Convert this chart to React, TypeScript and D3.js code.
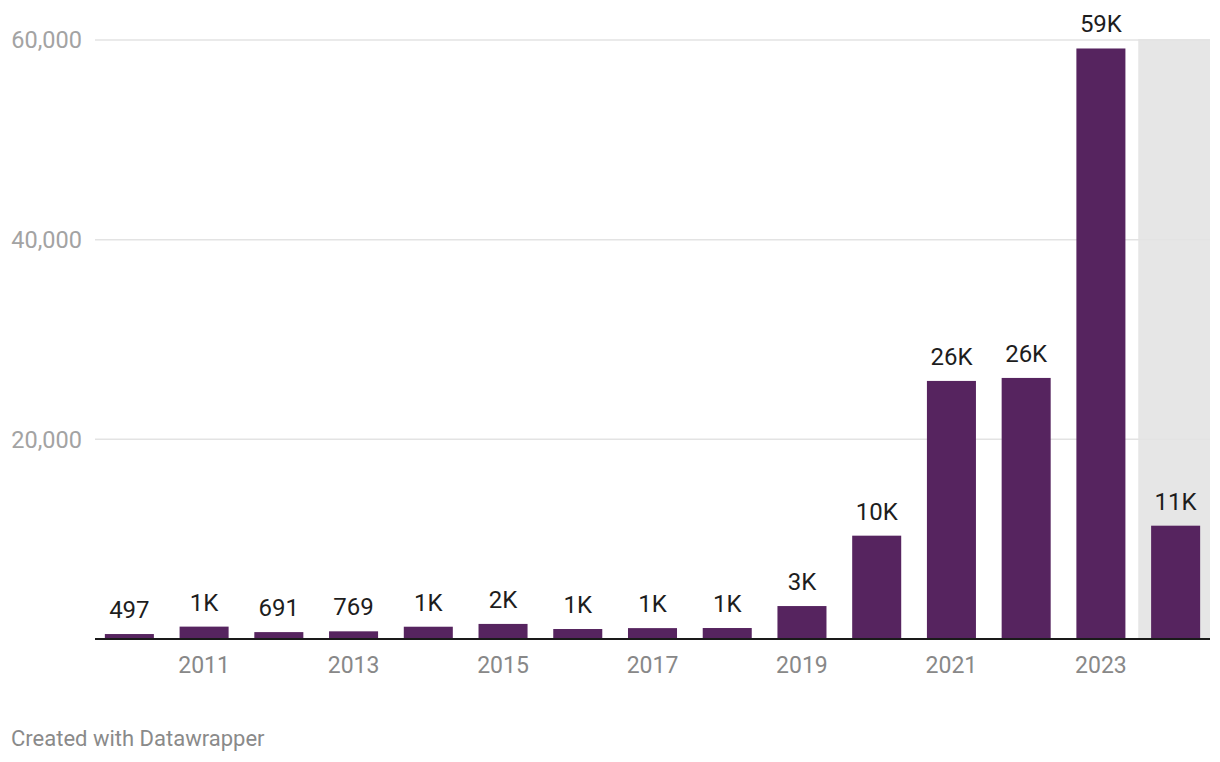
import React from "react";
import * as d3 from "d3";

const years = [2010, 2011, 2012, 2013, 2014, 2015, 2016, 2017, 2018, 2019, 2020, 2021, 2022, 2023, 2024];
const values = [497, 1240, 691, 769, 1230, 1510, 1000, 1090, 1100, 3300, 10350, 25850, 26150, 59150, 11350];
const yTicks = [20000, 40000, 60000];
const xTickYears = [2011, 2013, 2015, 2017, 2019, 2021, 2023];
const highlightYears = [2024];

const W = 1220;
const H = 762;
const plotLeft = 95;
const plotRight = 1210;
const baseY = 639;
const topY = 40;
const barColor = "#56245f";
const font = "Roboto, 'Noto Sans', sans-serif";

function fmtLabel(v: number): string {
  if (v < 1000) return String(v);
  return Math.round(v / 1000) + "K";
}

export default function App() {
  const x = d3
    .scaleBand<number>()
    .domain(years)
    .range([92, 1213])
    .paddingInner(0.344)
    .paddingOuter(0.172);
  const y = d3.scaleLinear().domain([0, 60000]).range([baseY, topY]);
  const step = x.step();
  const fmtAxis = d3.format(",");

  return (
    <div style={{ position: "absolute", left: 0, top: 0 }}>
      <svg width={W} height={H} style={{ display: "block", fontFamily: font }}>
        <rect x={0} y={0} width={W} height={H} fill="#ffffff" />
        {highlightYears.map((yr) => {
          const cx = (x(yr) as number) + x.bandwidth() / 2;
          const left = cx - step / 2;
          return (
            <rect
              key={"hl" + yr}
              x={left}
              y={y(60000) - 1}
              width={Math.min(plotRight, cx + step / 2) - left}
              height={baseY - y(60000) + 1}
              fill="#e6e6e6"
            />
          );
        })}
        {yTicks.map((t) => (
          <g key={"yt" + t}>
            <line x1={plotLeft} x2={plotRight} y1={y(t)} y2={y(t)} stroke="#e3e3e3" strokeWidth={1.5} />
            <text x={82} y={y(t)} dy="0.35em" textAnchor="end" fontSize={23.5} fill="#a3a3a3">
              {fmtAxis(t)}
            </text>
          </g>
        ))}
        {years.map((yr, i) => {
          const v = values[i];
          const bx = x(yr) as number;
          return (
            <g key={"b" + yr}>
              <rect x={bx} y={y(v)} width={x.bandwidth()} height={baseY - y(v)} fill={barColor} />
              <text
                x={bx + x.bandwidth() / 2}
                y={y(v) - 16}
                textAnchor="middle"
                fontSize={24}
                fill="#1d1d1d"
              >
                {fmtLabel(v)}
              </text>
            </g>
          );
        })}
        <line x1={plotLeft} x2={plotRight} y1={baseY} y2={baseY} stroke="#1a1a1a" strokeWidth={2} />
        {xTickYears.map((yr) => (
          <text
            key={"xt" + yr}
            x={(x(yr) as number) + x.bandwidth() / 2}
            y={673}
            textAnchor="middle"
            fontSize={23}
            fill="#888888"
          >
            {yr}
          </text>
        ))}
        <text x={11} y={746} fontSize={22} fill="#8a8a8a">
          Created with Datawrapper
        </text>
      </svg>
    </div>
  );
}
